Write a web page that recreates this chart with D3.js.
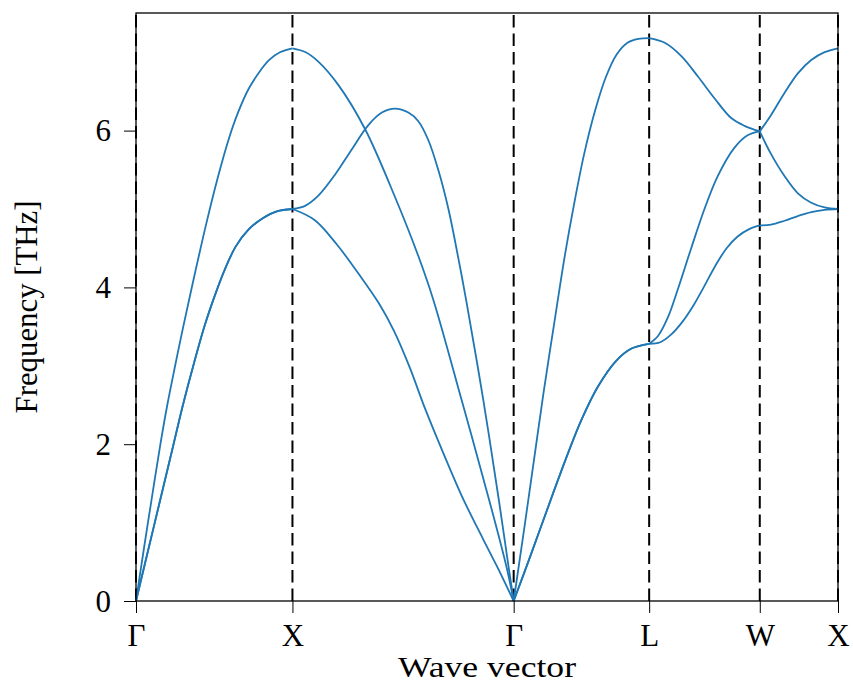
<!DOCTYPE html>
<html>
<head>
<meta charset="utf-8">
<script src="https://cdn.jsdelivr.net/npm/d3@7"></script>
<style>
  html, body { margin: 0; padding: 0; background: #fff; }
  svg { display: block; }
  text { font-family: "Liberation Serif", "Times New Roman", serif; fill: #000; }
</style>
</head>
<body>
<svg id="chart" width="853" height="683"></svg>
<script>
// ---- Data ----
const kLabels = ["Γ", "X", "Γ", "L", "W", "X"];
const kPositions = [0, 1.0, 2.414, 3.280, 3.987, 4.487]; // path length (2π/a)
const yTicks = [0, 2, 4, 6];
const yMax = 7.5;

// Each segment: branches, each a list of [fraction along segment, frequency THz]
const segGX = [
  [[0,0],[0.05,0.66],[0.1,1.3],[0.156,2.0],[0.2,2.5],[0.25,3.0],[0.3,3.48],[0.37,4.12],[0.45,4.82],[0.52,5.38],[0.594,5.9],[0.65,6.22],[0.722,6.54],[0.8,6.78],[0.85,6.9],[0.92,7.0],[1,7.05]],
  [[0,0],[0.12,1.0],[0.24,2.0],[0.3,2.5],[0.37,3.03],[0.44,3.52],[0.51,3.93],[0.57,4.24],[0.637,4.52],[0.72,4.74],[0.808,4.88],[0.9,4.97],[1,5.0]],
  [[0,0],[0.12,1.0],[0.24,2.0],[0.3,2.5],[0.37,3.03],[0.44,3.52],[0.51,3.93],[0.57,4.24],[0.637,4.52],[0.72,4.74],[0.808,4.88],[0.9,4.97],[1,5.0]]
];
const segXG = [
  [[0,7.05],[0.06,7.0],[0.117,6.88],[0.208,6.58],[0.328,6.02],[0.464,5.15],[0.569,4.40],[0.637,3.84],[0.765,2.56],[0.89,1.28],[0.968,0.43],[1,0]],
  [[0,5.0],[0.057,5.04],[0.117,5.17],[0.193,5.44],[0.268,5.76],[0.343,6.07],[0.404,6.23],[0.464,6.28],[0.524,6.23],[0.569,6.12],[0.614,5.88],[0.66,5.49],[0.705,5.0],[0.75,4.37],[0.785,3.84],[0.863,2.56],[0.935,1.25],[0.97,0.57],[1,0]],
  [[0,5.0],[0.1,4.86],[0.2,4.55],[0.3,4.17],[0.39,3.80],[0.46,3.44],[0.53,2.98],[0.6,2.45],[0.68,1.9],[0.772,1.3],[0.86,0.8],[0.923,0.45],[1,0]]
];
const segGL = [
  [[0,0],[0.08,0.95],[0.15,1.8],[0.22,2.65],[0.30,3.55],[0.377,4.4],[0.45,5.1],[0.52,5.7],[0.60,6.25],[0.68,6.68],[0.76,6.97],[0.84,7.12],[0.92,7.17],[1,7.18]],
  [[0,0],[0.131,0.61],[0.29,1.37],[0.40,1.88],[0.50,2.31],[0.62,2.73],[0.76,3.07],[0.87,3.22],[1,3.28]],
  [[0,0],[0.131,0.61],[0.29,1.37],[0.40,1.88],[0.50,2.31],[0.62,2.73],[0.76,3.07],[0.87,3.22],[1,3.28]]
];
const segLW = [
  [[0,7.18],[0.141,7.12],[0.291,6.95],[0.441,6.69],[0.592,6.41],[0.742,6.16],[0.862,6.06],[1,5.99]],
  [[0,3.28],[0.08,3.38],[0.17,3.62],[0.26,3.98],[0.38,4.5],[0.5,5.0],[0.62,5.42],[0.77,5.78],[0.89,5.94],[1,5.99]],
  [[0,3.28],[0.1,3.30],[0.2,3.40],[0.3,3.56],[0.4,3.77],[0.5,4.02],[0.6,4.28],[0.7,4.50],[0.8,4.65],[0.9,4.74],[1,4.79]]
];
const segWX = [
  [[0,5.99],[0.145,6.2],[0.316,6.48],[0.487,6.73],[0.658,6.9],[0.829,7.0],[1,7.05]],
  [[0,5.99],[0.145,5.7],[0.316,5.42],[0.487,5.2],[0.658,5.08],[0.829,5.02],[1,5.0]],
  [[0,4.79],[0.145,4.80],[0.316,4.85],[0.487,4.91],[0.658,4.96],[0.829,4.99],[1,5.0]]
];
const segments = [segGX, segXG, segGL, segLW, segWX];

// ---- Layout ----
const margin = {left: 136, top: 13, right: 15, bottom: 82};
const W = 853, H = 683;
const iw = W - margin.left - margin.right;
const ih = H - margin.top - margin.bottom;

const svg = d3.select("#chart");
const g = svg.append("g").attr("transform", `translate(${margin.left},${margin.top})`);

const x = d3.scaleLinear().domain([kPositions[0], kPositions[kPositions.length-1]]).range([0, iw]);
const y = d3.scaleLinear().domain([0, yMax]).range([ih, 0]);

// dashed high-symmetry lines (drawn from the bottom up)
g.selectAll("line.hs").data(kPositions).enter().append("line")
  .attr("class", "hs")
  .attr("x1", d => x(d)).attr("x2", d => x(d))
  .attr("y1", ih).attr("y2", 0)
  .attr("stroke", "#000").attr("stroke-width", 2)
  .attr("stroke-dasharray", "12.5,6");

// bands
const line = d3.line()
  .x(d => x(d[0])).y(d => y(d[1]))
  .curve(d3.curveCatmullRom.alpha(0.5));

segments.forEach((seg, i) => {
  const k0 = kPositions[i], k1 = kPositions[i+1];
  seg.forEach(branch => {
    const pts = branch.map(([t, f]) => [k0 + t * (k1 - k0), f]);
    g.append("path")
      .attr("d", line(pts))
      .attr("fill", "none")
      .attr("stroke", "#1f77b4")
      .attr("stroke-width", 1.8);
  });
});

// axes
const xAxis = d3.axisBottom(x).tickValues(kPositions).tickFormat((d, i) => kLabels[i]).tickSize(12).tickSizeOuter(0);
const yAxis = d3.axisLeft(y).tickValues(yTicks).tickFormat(d3.format("d")).tickSize(12).tickSizeOuter(0);

const gx = g.append("g").attr("transform", `translate(0,${ih})`).call(xAxis);
const gy = g.append("g").call(yAxis);
[gx, gy].forEach(a => {
  a.select(".domain").remove();
  a.selectAll(".tick line").attr("stroke", "#000").attr("stroke-width", 1);
  a.selectAll(".tick text").attr("font-family", "Liberation Serif").attr("font-size", 31).attr("fill", "#000");
});
gx.selectAll(".tick text").attr("y", 45).attr("dy", "0");
gy.selectAll(".tick text").attr("x", -25).attr("dy", "0.33em");

// frame
g.append("rect").attr("x", 0).attr("y", 0).attr("width", iw).attr("height", ih)
  .attr("fill", "none").attr("stroke", "#000").attr("stroke-width", 1.3);

// axis titles
svg.append("text")
  .attr("x", margin.left + iw / 2).attr("y", 677)
  .attr("text-anchor", "middle").attr("font-size", 30)
  .attr("textLength", 178).attr("lengthAdjust", "spacingAndGlyphs")
  .text("Wave vector");
svg.append("text")
  .attr("transform", `translate(37,${margin.top + ih / 2}) rotate(-90)`)
  .attr("text-anchor", "middle").attr("font-size", 31)
  .attr("textLength", 213).attr("lengthAdjust", "spacingAndGlyphs")
  .text("Frequency [THz]");
</script>
</body>
</html>
